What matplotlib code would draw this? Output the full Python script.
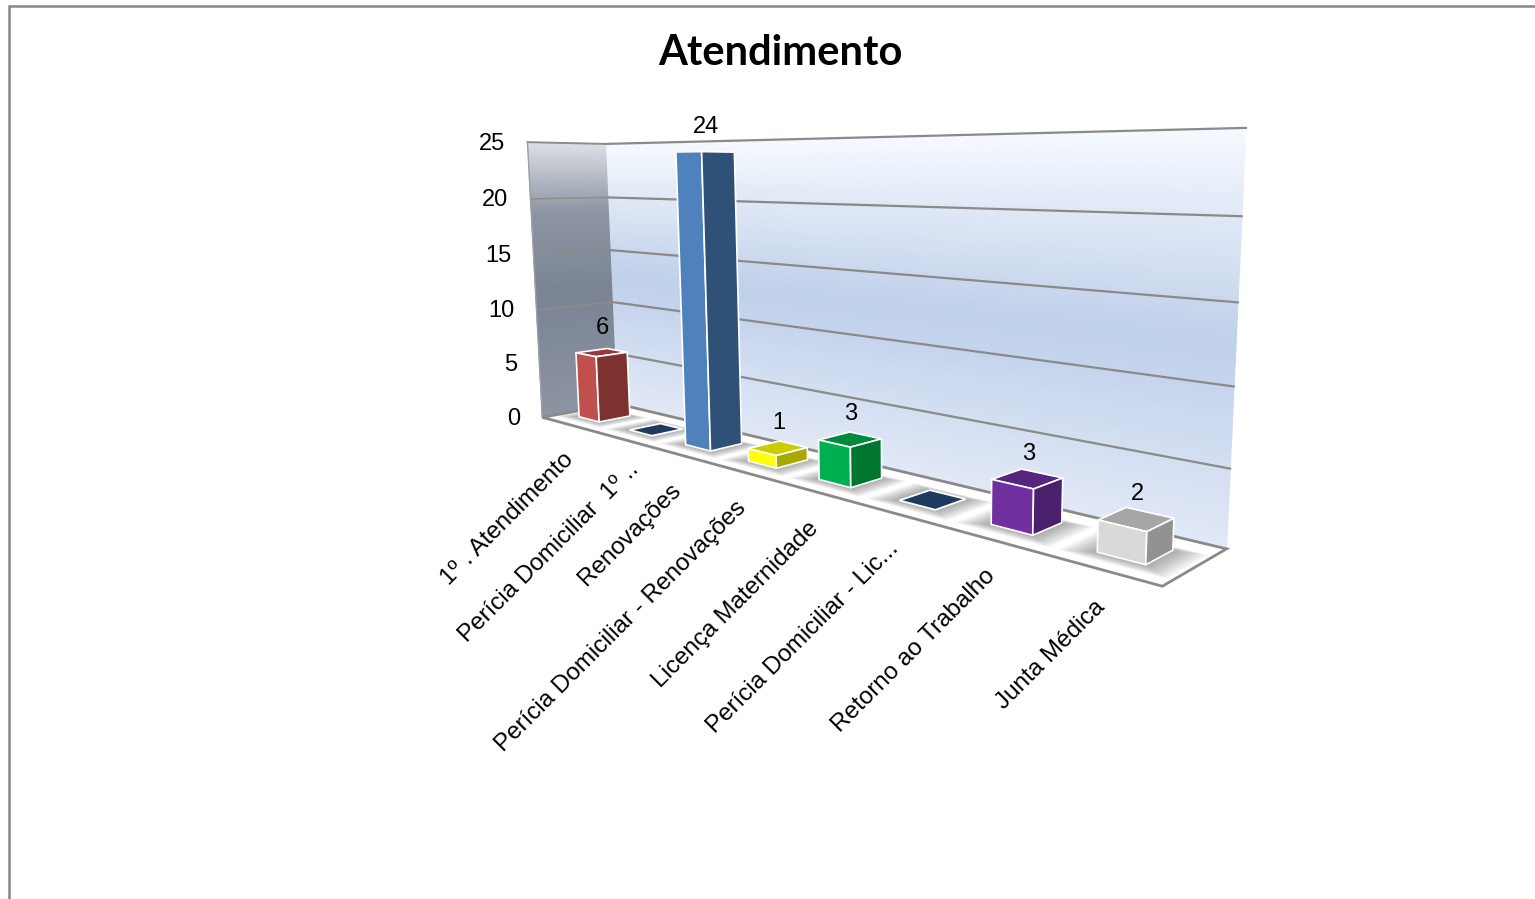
import numpy as np
import matplotlib
matplotlib.use('Agg')
import matplotlib.pyplot as plt
from matplotlib.colors import LinearSegmentedColormap
from matplotlib.patches import Polygon

# ---------- Data ----------
categories = ['1º . Atendimento', 'Perícia Domiciliar  1º ..', 'Renovações',
              'Perícia Domiciliar - Renovações', 'Licença Maternidade',
              'Perícia Domiciliar - Lic...', 'Retorno ao Trabalho', 'Junta Médica']
values = [6, 0, 24, 1, 3, 0, 3, 2]
z_ticks = [0, 5, 10, 15, 20, 25]

# (front, side, top)
bar_colors = [('#c0504d', '#7e3230', '#96393a'),
              ('#1f3a5f', '#1f3a5f', '#1f3a5f'),
              ('#4f81bd', '#2f5077', '#3c6496'),
              ('#ffff00', '#a8a800', '#cccc00'),
              ('#00b050', '#00752f', '#008a3e'),
              ('#1f3a5f', '#1f3a5f', '#1f3a5f'),
              ('#7030a0', '#4a1f6b', '#57257d'),
              ('#d9d9d9', '#929292', '#a6a6a6')]

# ---------- Layout: pixel position of the 3D box corners ----------
W, H = 1535, 899
n_cat = len(categories)
z_max = z_ticks[-1]
box_world = [(0, 0, 0), (0, 1, 0), (n_cat, 1, 0), (n_cat, 0, 0),
             (0, 0, z_max), (0, 1, z_max), (n_cat, 1, z_max)]
box_pixel = [(543, 417), (616, 404), (1227, 548), (1162, 587),
             (527, 142), (606, 144), (1246, 128)]
bar_w = 0.41
bar_d = 0.41
label_anchor = [(570, 456), (635, 466), (678, 487), (743, 505),
                (815, 525), (895, 545), (992, 573), (1102, 604)]


def fit_camera(world, pixel):
    rows = []
    for (x, y, z), (px, py) in zip(world, pixel):
        rows.append([x, y, z, 1, 0, 0, 0, 0, -px*x, -px*y, -px*z, -px])
        rows.append([0, 0, 0, 0, x, y, z, 1, -py*x, -py*y, -py*z, -py])
    return np.linalg.svd(np.array(rows, dtype=float))[2][-1].reshape(3, 4)


cam = fit_camera(box_world, box_pixel)


def project(x, y, z):
    x, y, z = np.broadcast_arrays(x, y, z)
    p = cam @ np.array([x.ravel(), y.ravel(), z.ravel(), np.ones(x.size)], dtype=float)
    return (p[0] / p[2]).reshape(x.shape), (p[1] / p[2]).reshape(x.shape)


def poly(points):
    return np.column_stack(project(*np.array(points, dtype=float).T))


fig = plt.figure(figsize=(W / 100, H / 100), dpi=100)
ax = fig.add_axes([0, 0, 1, 1])

# ---------- Walls ----------
back_cmap = LinearSegmentedColormap.from_list('back', [(0, '#e2e9f7'), (0.5, '#bfd0ea'), (1, '#f6f9ff')])
side_cmap = LinearSegmentedColormap.from_list('side', [(0, '#8d94a2'), (0.45, '#7a8494'), (0.75, '#8d95a3'), (1, '#dcdfe5')])
zz = np.linspace(0, z_max, 40)
xg, zg = np.meshgrid(np.linspace(0, n_cat, 24), zz)
px, py = project(xg, 1, zg)
ax.pcolormesh(px, py, zg, cmap=back_cmap, shading='gouraud', zorder=1)
yg, zg2 = np.meshgrid(np.linspace(0, 1, 8), zz)
px, py = project(0, yg, zg2)
ax.pcolormesh(px, py, zg2, cmap=side_cmap, shading='gouraud', zorder=1)

grid_col = '#8a8a8a'
for z in z_ticks[1:]:
    gx, gy = project(np.array([0, n_cat]), 1, z)
    ax.plot(gx, gy, color=grid_col, lw=1.6, zorder=2, solid_capstyle='round')
    gx, gy = project(0, np.array([0, 1]), z)
    ax.plot(gx, gy, color='#8f8b85', lw=1.0 if z < z_max else 1.4, zorder=2)
gx, gy = project(0, 0, np.array([0, z_max]))
ax.plot(gx, gy, color='#9a9ea6', lw=1.0, zorder=2)

# ---------- Floor ----------
floor = poly([(0, 0, 0), (0, 1, 0), (n_cat, 1, 0), (n_cat, 0, 0)])
floor_patch = Polygon(floor, closed=True, facecolor='white', edgecolor=grid_col, lw=2.0, zorder=3)
ax.add_patch(floor_patch)

# ---------- Bars ----------
for i, (val, cols) in enumerate(zip(values, bar_colors)):
    x0 = i + 0.5 - bar_w / 2
    x1 = i + 0.5 + bar_w / 2
    y0 = 0.5 - bar_d / 2
    y1 = 0.5 + bar_d / 2

    # soft shadow on the floor
    for grow in np.linspace(0.25, 0.03, 10):
        sh = poly([(x0 - grow, y0 - grow * 0.6, 0), (x0 - grow, y1 + grow * 0.3, 0),
                   (x1 + grow, y1 + grow * 0.3, 0), (x1 + grow, y0 - grow * 0.6, 0)])
        p = Polygon(sh, closed=True, facecolor='#555555', edgecolor='none', alpha=0.06,
                    zorder=4 + i * 0.1)
        ax.add_patch(p)
        p.set_clip_path(floor_patch)

    z = 5 + i * 0.1
    if val == 0:
        ax.add_patch(Polygon(poly([(x0, y0, 0), (x0, y1, 0), (x1, y1, 0), (x1, y0, 0)]),
                             closed=True, facecolor=cols[0], edgecolor='white', lw=1.3, zorder=z))
        continue
    faces = [([(x0, y0, val), (x0, y1, val), (x1, y1, val), (x1, y0, val)], cols[2]),
             ([(x0, y0, 0), (x1, y0, 0), (x1, y0, val), (x0, y0, val)], cols[0]),
             ([(x1, y0, 0), (x1, y1, 0), (x1, y1, val), (x1, y0, val)], cols[1])]
    for pts, col in faces:
        ax.add_patch(Polygon(poly(pts), closed=True, facecolor=col, edgecolor='white',
                             lw=1.2, joinstyle='round', zorder=z))
    tx, ty = project(i + 0.5, 0.5, val)
    ax.text(float(tx) + 1, float(ty) - 25, str(val), ha='center', va='center', fontsize=17,
            family='Liberation Sans', color='black', zorder=8)

# ---------- Text ----------
for z in z_ticks:
    tx, ty = project(0, 0, z)
    ax.text(float(tx) - 22, float(ty) + 1.5, str(z), ha='right', va='center', fontsize=17,
            family='Liberation Sans', color='black')

for name, (tx, ty) in zip(categories, label_anchor):
    ax.text(tx, ty, name, rotation=45, rotation_mode='anchor', ha='right', va='center',
            fontsize=17.5, family='Liberation Sans', color='black')

ax.text(780, 53, 'Atendimento', ha='center', va='center', fontsize=30, fontweight='bold',
        family='Lato', color='black')

# outer chart frame, only top and left are in view
ax.plot([9, 9, W], [H, 6, 6], color='#868686', lw=1.8, solid_joinstyle='miter')

ax.set_xlim(0, W)
ax.set_ylim(H, 0)
ax.axis('off')
fig.savefig('out.png', dpi=100, facecolor='white')
